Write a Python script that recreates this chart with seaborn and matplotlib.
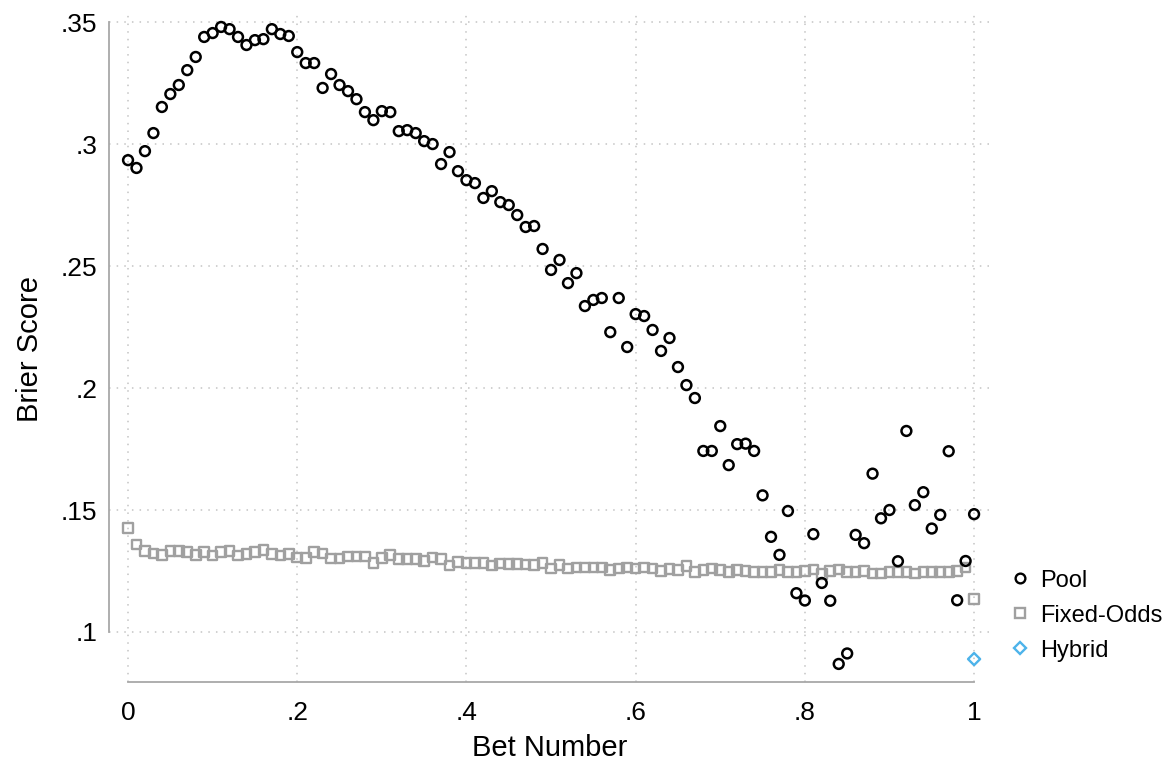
import numpy as np
import pandas as pd
import matplotlib
matplotlib.use("Agg")
import matplotlib.pyplot as plt
from matplotlib.lines import Line2D
import seaborn as sns

# ---------------- data ----------------
bet_number = [round(i / 100, 2) for i in range(101)]

pool = [
    0.2934, 0.2902, 0.2971, 0.3045, 0.3152, 0.3205, 0.3242, 0.3303, 0.3357, 0.3439,
    0.3455, 0.3480, 0.3471, 0.3439, 0.3406, 0.3426, 0.3430, 0.3471, 0.3451, 0.3443,
    0.3377, 0.3332, 0.3332, 0.3230, 0.3287, 0.3242, 0.3217, 0.3184, 0.3131, 0.3098,
    0.3135, 0.3131, 0.3053, 0.3057, 0.3045, 0.3012, 0.3000, 0.2918, 0.2967, 0.2889,
    0.2852, 0.2840, 0.2779, 0.2807, 0.2762, 0.2750, 0.2709, 0.2660, 0.2664, 0.2570,
    0.2484, 0.2525, 0.2430, 0.2471, 0.2336, 0.2361, 0.2369, 0.2229, 0.2369, 0.2168,
    0.2303, 0.2295, 0.2238, 0.2152, 0.2205, 0.2086, 0.2012, 0.1959, 0.1742, 0.1742,
    0.1844, 0.1684, 0.1770, 0.1772, 0.1742, 0.1560, 0.1390, 0.1316, 0.1496, 0.1159,
    0.1129, 0.1401, 0.1201, 0.1128, 0.0869, 0.0912, 0.1398, 0.1364, 0.1649, 0.1466,
    0.1500, 0.1290, 0.1824, 0.1520, 0.1573, 0.1424, 0.1480, 0.1741, 0.1130, 0.1291,
    0.1483,
]

fixed_odds = [
    0.1427, 0.1359, 0.1332, 0.1322, 0.1316, 0.1333, 0.1332, 0.1329, 0.1316, 0.1329,
    0.1313, 0.1329, 0.1332, 0.1313, 0.1320, 0.1329, 0.1336, 0.1320, 0.1313, 0.1320,
    0.1305, 0.1303, 0.1329, 0.1322, 0.1301, 0.1301, 0.1309, 0.1309, 0.1309, 0.1284,
    0.1303, 0.1316, 0.1299, 0.1299, 0.1299, 0.1291, 0.1306, 0.1299, 0.1272, 0.1288,
    0.1284, 0.1284, 0.1284, 0.1272, 0.1281, 0.1279, 0.1279, 0.1277, 0.1275, 0.1284,
    0.1261, 0.1275, 0.1261, 0.1265, 0.1265, 0.1265, 0.1265, 0.1254, 0.1261, 0.1265,
    0.1261, 0.1265, 0.1261, 0.1251, 0.1258, 0.1254, 0.1270, 0.1247, 0.1254, 0.1261,
    0.1254, 0.1247, 0.1254, 0.1251, 0.1245, 0.1245, 0.1245, 0.1254, 0.1245, 0.1245,
    0.1251, 0.1256, 0.1238, 0.1251, 0.1256, 0.1247, 0.1247, 0.1251, 0.1240, 0.1240,
    0.1245, 0.1245, 0.1247, 0.1240, 0.1245, 0.1245, 0.1245, 0.1245, 0.1251, 0.1265,
    0.1135,
]

hybrid_x = [1.0]
hybrid = [0.0889]

x_ticks = [0, 0.2, 0.4, 0.6, 0.8, 1.0]
x_tick_labels = ["0", ".2", ".4", ".6", ".8", "1"]
y_ticks = [0.10, 0.15, 0.20, 0.25, 0.30, 0.35]
y_tick_labels = [".1", ".15", ".2", ".25", ".3", ".35"]

series_names = ["Pool", "Fixed-Odds", "Hybrid"]

# ---------------- style ----------------
sns.set_style("white")
plt.rcParams["font.family"] = ["Liberation Sans", "DejaVu Sans"]
plt.rcParams["text.color"] = "black"
plt.rcParams["axes.labelcolor"] = "black"

BLACK = "#000000"
GRAY = "#a0a0a0"
BLUE = "#4db3ea"
AXGRAY = "#a8a8a8"

fig = plt.figure(figsize=(11.63, 7.60), dpi=100)
ax = fig.add_axes([109 / 1163, 1 - 682 / 760, (991 - 109) / 1163, (682 - 15) / 760])

df_pool = pd.DataFrame({"x": bet_number, "y": pool})
df_fixed = pd.DataFrame({"x": bet_number, "y": fixed_odds})
df_hyb = pd.DataFrame({"x": hybrid_x, "y": hybrid})

sns.scatterplot(data=df_fixed, x="x", y="y", marker="s", s=48, ax=ax, zorder=3)
ax.collections[-1].set_facecolor("none")
ax.collections[-1].set_edgecolor(GRAY)
ax.collections[-1].set_linewidth(1.7)

sns.scatterplot(data=df_pool, x="x", y="y", marker="o", s=50, ax=ax, zorder=4)
ax.collections[-1].set_facecolor("none")
ax.collections[-1].set_edgecolor(BLACK)
ax.collections[-1].set_linewidth(1.8)

sns.scatterplot(data=df_hyb, x="x", y="y", marker="D", s=38, ax=ax, zorder=4)
ax.collections[-1].set_facecolor("none")
ax.collections[-1].set_edgecolor(BLUE)
ax.collections[-1].set_linewidth(1.7)

# axes limits
ax.set_xlim(-0.0225, 1.02)
ax.set_ylim(0.0795, 0.3529)

ax.set_xticks(x_ticks)
ax.set_xticklabels(x_tick_labels)
ax.set_yticks(y_ticks)
ax.set_yticklabels(y_tick_labels)

ax.tick_params(axis="both", which="major", labelsize=19, colors=AXGRAY,
               labelcolor="black", length=7, width=1.3, direction="out")
ax.tick_params(axis="x", pad=7)
ax.tick_params(axis="y", pad=1.5)

ax.grid(True, color="#c4c4c4", linestyle=(0, (1, 4)), linewidth=1.1)
ax.set_axisbelow(True)

for side in ["top", "right"]:
    ax.spines[side].set_visible(False)
for side in ["left", "bottom"]:
    ax.spines[side].set_color(AXGRAY)
    ax.spines[side].set_linewidth(1.3)
ax.spines["left"].set_bounds(0.10, 0.35)
ax.spines["bottom"].set_bounds(0.0, 1.0)

ax.set_xlabel("Bet Number", fontsize=21, labelpad=6)
ax.set_ylabel("Brier Score", fontsize=21, labelpad=12)

handles = [
    Line2D([], [], linestyle="none", marker="o", markersize=7, markerfacecolor="none",
           markeredgecolor=BLACK, markeredgewidth=1.7),
    Line2D([], [], linestyle="none", marker="s", markersize=6.5, markerfacecolor="none",
           markeredgecolor=GRAY, markeredgewidth=1.7),
    Line2D([], [], linestyle="none", marker="D", markersize=6, markerfacecolor="none",
           markeredgecolor=BLUE, markeredgewidth=1.7),
]
fig.legend(handles, series_names, loc="center left", bbox_to_anchor=(0.8605, 0.190),
           frameon=False, fontsize=17, handlelength=0.8, handletextpad=0.45,
           labelspacing=0.55, borderaxespad=0)

fig.savefig("out.png", dpi=100)
